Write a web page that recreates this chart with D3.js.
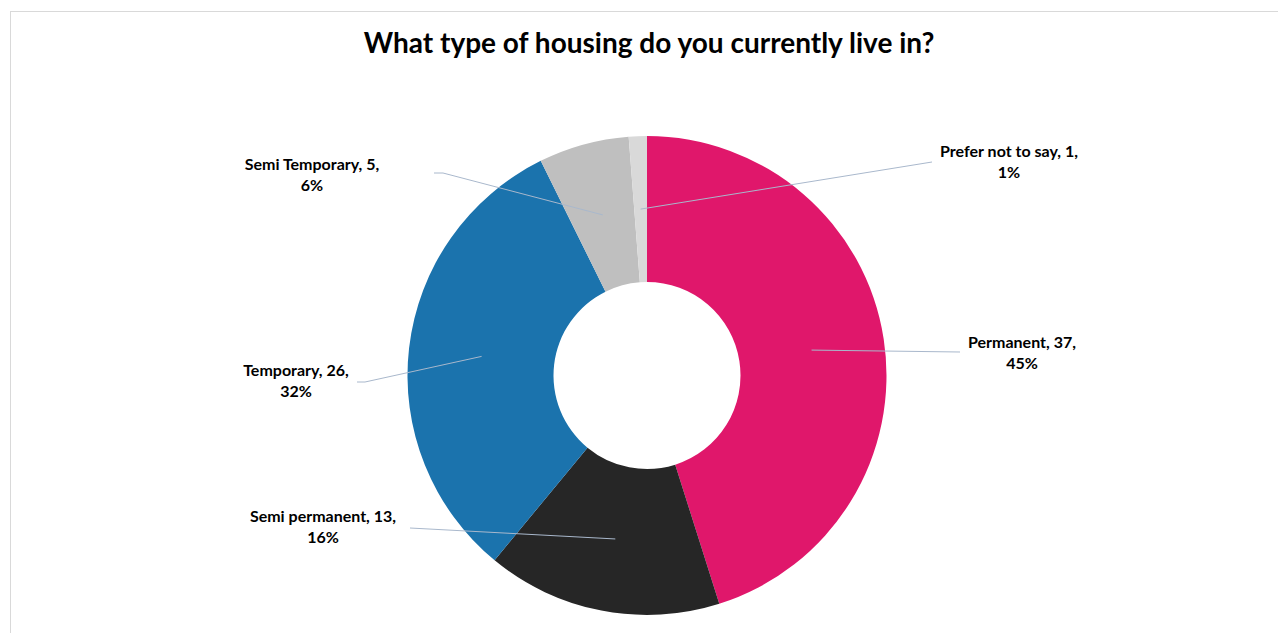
<!DOCTYPE html>
<html>
<head>
<meta charset="utf-8">
<script src="https://cdn.jsdelivr.net/npm/d3@7"></script>
<style>
  html, body { margin: 0; padding: 0; background: #fff; }
  svg { display: block; }
  text { font-family: Lato, "Open Sans", sans-serif; font-weight: 700; fill: #000; }
</style>
</head>
<body>
<svg id="chart" width="1278" height="633"></svg>
<script>
// Housing survey responses (clockwise from 12 o'clock)
const categories = ["Permanent", "Semi permanent", "Temporary", "Semi Temporary", "Prefer not to say"];
const counts = [37, 13, 26, 5, 1];
const percents = ["45%", "16%", "32%", "6%", "1%"];
const colors = ["#E0176B", "#262626", "#1B73AD", "#BFBFBF", "#D9D9D9"];
const title = "What type of housing do you currently live in?";

// Where each two-line label sits (centre x, first baseline y) and where its leader attaches
const labelLayout = [
  { cx: 1022, y: 348, ax: 960, ay: 352, hx: 960 },
  { cx: 323,  y: 522, ax: 410, ay: 528, hx: 410 },
  { cx: 296,  y: 376, ax: 357, ay: 382, hx: 365 },
  { cx: 312,  y: 170, ax: 434, ay: 173, hx: 443 },
  { cx: 1009, y: 157, ax: 932, ay: 162, hx: 932 }
];

const svg = d3.select("#chart");
const W = 1278, H = 633;

// chart frame
svg.append("rect")
  .attr("x", 10.5).attr("y", 11.5)
  .attr("width", W + 20).attr("height", H + 20)
  .attr("fill", "#fff").attr("stroke", "#D9D9D9").attr("stroke-width", 1);

svg.append("text")
  .attr("x", 649).attr("y", 53)
  .attr("text-anchor", "middle")
  .style("font-size", "28px")
  .text(title);

const cx = 647, cy = 375.5;
const outerR = 239.5, innerR = 93.5;

const data = categories.map((c, i) => ({ name: c, value: counts[i], pct: percents[i], color: colors[i], layout: labelLayout[i] }));

const pie = d3.pie().value(d => d.value).sort(null);
const arcs = pie(data);
const arc = d3.arc().innerRadius(innerR).outerRadius(outerR);
const midArc = d3.arc().innerRadius((innerR + outerR) / 2).outerRadius((innerR + outerR) / 2);

const g = svg.append("g").attr("transform", `translate(${cx},${cy})`);

g.selectAll("path.slice")
  .data(arcs)
  .join("path")
  .attr("class", "slice")
  .attr("d", arc)
  .attr("fill", d => d.data.color);

// leader lines from mid-ring of each slice to its label
svg.selectAll("polyline.leader")
  .data(arcs)
  .join("polyline")
  .attr("class", "leader")
  .attr("fill", "none")
  .attr("stroke", "#A9B8CC")
  .attr("stroke-width", 1)
  .attr("points", d => {
    const [mx, my] = midArc.centroid(d);
    const L = d.data.layout;
    return [[cx + mx, cy + my], [L.hx, L.ay], [L.ax, L.ay]].map(p => p.join(",")).join(" ");
  });

const labels = svg.selectAll("text.lbl")
  .data(arcs)
  .join("text")
  .attr("class", "lbl")
  .attr("text-anchor", "middle")
  .style("font-size", "16px");

labels.append("tspan")
  .attr("x", d => d.data.layout.cx)
  .attr("y", d => d.data.layout.y)
  .text(d => `${d.data.name}, ${d.data.value},`);

labels.append("tspan")
  .attr("x", d => d.data.layout.cx)
  .attr("y", d => d.data.layout.y + 21)
  .text(d => d.data.pct);
</script>
</body>
</html>
